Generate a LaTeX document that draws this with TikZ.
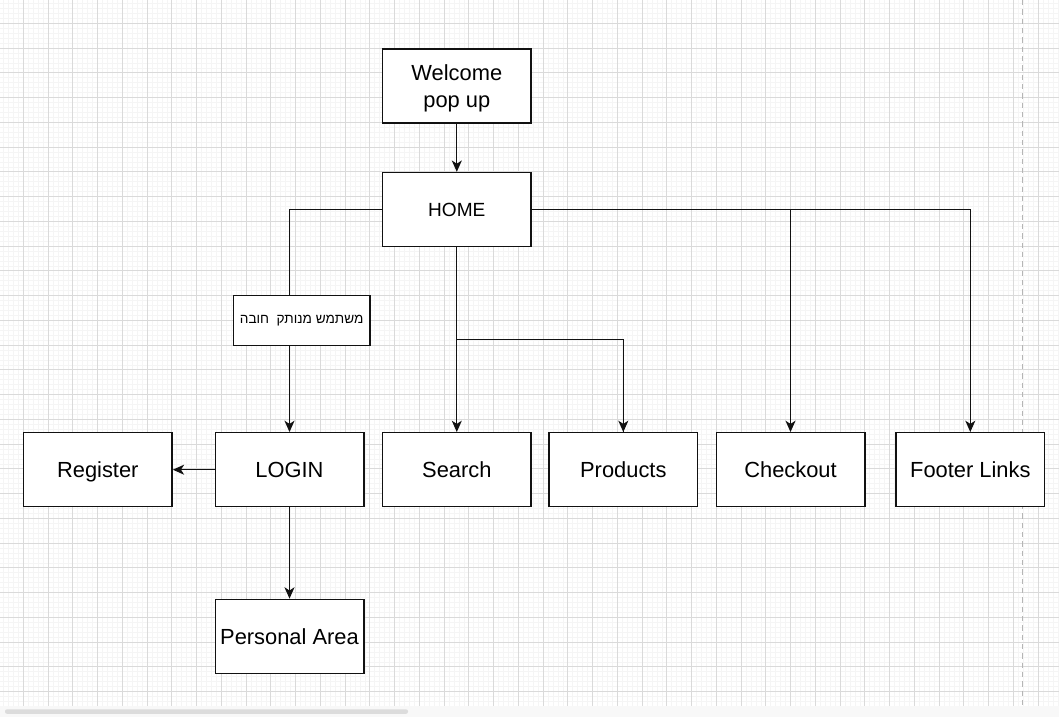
\documentclass[tikz,border=0pt]{standalone}
\usepackage{fontspec}
\setmainfont{Liberation Sans}
\newfontfamily\hebfont[Script=Hebrew]{Liberation Sans}
\TeXXeTstate=1
\usetikzlibrary{arrows.meta}
\definecolor{gridminor}{HTML}{F5F5F5}
\definecolor{gridmajor}{HTML}{DADADA}
\definecolor{linecol}{HTML}{111111}
\definecolor{pagebottom}{HTML}{F8F8F8}
\definecolor{scrollbar}{HTML}{DCDCDC}
\definecolor{pageedge}{HTML}{B5B5B5}
\tikzset{
  box/.style={draw=linecol, line width=1pt, fill=white, minimum width=111.5pt, minimum height=55.5pt, inner sep=0pt, font=\fontsize{16.4}{20.3}\selectfont, align=center, text height=14pt, text depth=2.3pt},
  twoline/.style={text height=, text depth=},
  homebox/.style={box, font=\fontsize{14.3}{17}\selectfont, text height=12.5pt, text depth=2.3pt},
  labelbox/.style={draw=linecol, line width=0.9pt, fill=white, minimum width=102.5pt, minimum height=37.5pt, inner sep=0pt, font=\hebfont\fontsize{10.2}{12}\selectfont},
  link/.style={draw=linecol, line width=1pt, -{Stealth[length=8.5pt,width=7.5pt,inset=2.4pt]}},
  plain/.style={draw=linecol, line width=1pt},
}
\begin{document}
\begin{tikzpicture}[x=0.75pt,y=-0.75pt]
\useasboundingbox (0,0) rectangle (1059,717);
% background grid
\fill[white] (0,0) rectangle (1059,717);
\foreach \i in {0,...,214} {
  \draw[gridminor, line width=0.5pt] ({3.5+4.95*\i},0) -- ({3.5+4.95*\i},705.5);
}
\foreach \i in {0,...,142} {
  \draw[gridminor, line width=0.5pt] (0,{3.5+4.95*\i}) -- (1059,{3.5+4.95*\i});
}
\foreach \i in {0,...,42} {
  \draw[gridmajor, line width=0.7pt] ({23.3+24.75*\i},0) -- ({23.3+24.75*\i},705.5);
}
\foreach \i in {0,...,27} {
  \draw[gridmajor, line width=0.7pt] (0,{23.3+24.75*\i}) -- (1059,{23.3+24.75*\i});
}
\draw[pageedge, line width=1pt, dash pattern=on 4pt off 3pt] (1022.3,0) -- (1022.3,705.5);
\fill[pagebottom] (0,705.5) rectangle (1059,717);
\fill[scrollbar, rounded corners=1.5pt] (5,709.3) rectangle (408,713.8);

% nodes
\node[box, twoline] (welcome) at (456.8,86) {\raisebox{-1.8pt}[\height][\depth]{\begin{tabular}{@{}c@{}}Welcome\\pop up\end{tabular}}};
\node[homebox] (home) at (456.8,209.5) {HOME};
\node[box] (register) at (97.8,469.7) {Register};
\node[box] (login) at (289.5,469.7) {LOGIN};
\node[box] (search) at (456.8,469.7) {Search};
\node[box] (products) at (623.3,469.7) {Products};
\node[box] (checkout) at (790.5,469.7) {Checkout};
\node[box] (footer) at (970.3,469.7) {Footer Links};
\node[box] (personal) at (289.5,636.3) {Personal Area};
\coordinate (branch) at (456.8,339.3);

% connectors
\draw[link] (welcome) -- (home);
\draw[link] (home.west) -| (login.north);
\draw[link] (home.south) -- (search.north);
\draw[plain] (branch) -| (products.north);
\draw[link] (branch -| products.north) -- (products.north);
\draw[link] (home.east) -| (checkout.north);
\draw[link] (home.east) -| (footer.north);
\draw[link] (login.west) -- (register.east);
\draw[link] (login.south) -- (personal.north);

% edge label
\node[labelbox] (label) at (301.7,320.7) {\beginR משתמש מנותק\ \ חובה\endR};
\end{tikzpicture}
\end{document}
